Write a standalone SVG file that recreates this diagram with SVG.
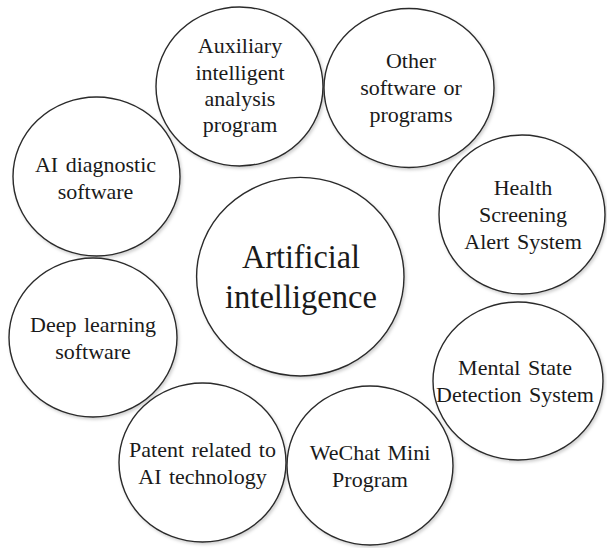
<svg xmlns="http://www.w3.org/2000/svg" width="607" height="548" viewBox="0 0 607 548">
<defs>
<filter id="sh" x="-10%" y="-10%" width="125%" height="125%">
<feDropShadow dx="1.5" dy="2" stdDeviation="1.8" flood-color="#000" flood-opacity="0.18"/>
</filter>
<style>
ellipse{fill:#fff;stroke:#2b2b2b;stroke-width:1.4;filter:url(#sh)}
text{font-family:"Liberation Serif","Times New Roman",serif;fill:#1a1a1a;text-anchor:middle;font-size:22px;word-spacing:2px}
.big{font-size:34px;word-spacing:0}
</style>
</defs>
<rect width="607" height="548" fill="#fff"/>
<g id="connectors"/>
<g id="center">
<ellipse cx="300.3" cy="276.7" rx="103.7" ry="99.3"/>
<text class="big" x="301" y="268" textLength="118" lengthAdjust="spacingAndGlyphs">Artificial</text>
<text class="big" x="301" y="308" textLength="152" lengthAdjust="spacingAndGlyphs">intelligence</text>
</g>
<g id="auxiliary">
<ellipse cx="239.5" cy="86.5" rx="83.5" ry="79.5"/>
<text x="240" y="53">Auxiliary</text>
<text x="240" y="80">intelligent</text>
<text x="240" y="106">analysis</text>
<text x="240" y="132">program</text>
</g>
<g id="other">
<ellipse cx="409" cy="88" rx="85" ry="79.5"/>
<text x="411" y="68">Other</text>
<text x="411" y="95" word-spacing="4">software or</text>
<text x="411" y="122">programs</text>
</g>
<g id="aidiag">
<ellipse cx="96.5" cy="176.5" rx="83.5" ry="79.5"/>
<text x="95.5" y="172">AI diagnostic</text>
<text x="95.5" y="199">software</text>
</g>
<g id="deep">
<ellipse cx="93" cy="337.5" rx="84" ry="79.5"/>
<text x="93" y="332">Deep learning</text>
<text x="93" y="359">software</text>
</g>
<g id="health">
<ellipse cx="522" cy="214.5" rx="83" ry="79.5"/>
<text x="523" y="195">Health</text>
<text x="523" y="222">Screening</text>
<text x="523" y="249">Alert System</text>
</g>
<g id="mental">
<ellipse cx="518" cy="381" rx="85" ry="79"/>
<text x="515" y="375">Mental State</text>
<text x="515" y="402">Detection System</text>
</g>
<g id="patent">
<ellipse cx="202.5" cy="462.5" rx="83.5" ry="79.5"/>
<text x="202.5" y="457">Patent related to</text>
<text x="202.5" y="484">AI technology</text>
</g>
<g id="wechat">
<ellipse cx="370" cy="465.5" rx="83" ry="79.5"/>
<text x="370" y="460">WeChat Mini</text>
<text x="370" y="487">Program</text>
</g>
</svg>
